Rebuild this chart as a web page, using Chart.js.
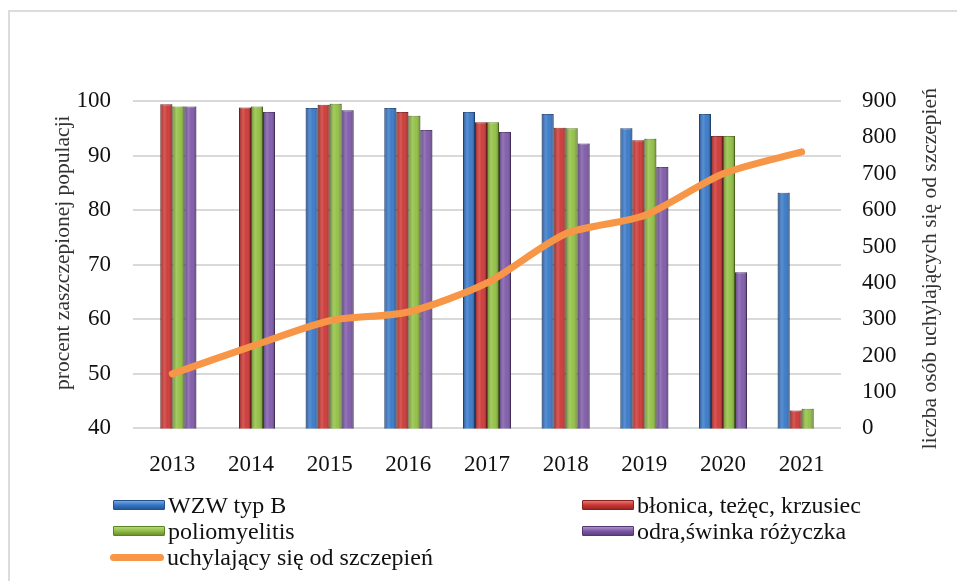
<!DOCTYPE html>
<html>
<head>
<meta charset="utf-8">
<script src="https://cdn.jsdelivr.net/npm/chart.js@4/dist/chart.umd.min.js"></script>
<style>
  html, body { margin: 0; padding: 0; background: #fff; }
  #wrap { position: relative; width: 957px; height: 581px; overflow: hidden; }
  #frame { position: absolute; left: 8px; top: 10px; right: -10px; bottom: -10px;
           border-top: 2px solid #dcdcdc; border-left: 2px solid #dcdcdc; }
  #chartBox { position: absolute; left: 0; top: 0; width: 957px; height: 506px; }
  #legend { position: absolute; left: 0; top: 0; width: 957px; height: 581px;
            font-family: "Liberation Serif", "DejaVu Serif", serif; font-size: 24px; color: #111; }
  .item { position: absolute; display: flex; align-items: center; white-space: nowrap; line-height: 26px; }
  .box { width: 52px; height: 10px; margin-right: 3px; box-sizing: border-box; border-radius: 1px; }
  .stroke { width: 54px; height: 7px; margin-right: 3px; border-radius: 4px; }
</style>
</head>
<body>
<div id="wrap">
  <div id="frame"></div>
  <div id="chartBox"><canvas id="vaccChart"></canvas></div>
  <div id="legend"></div>
</div>
<script>
const years = ['2013', '2014', '2015', '2016', '2017', '2018', '2019', '2020', '2021'];

const wzwB = [null, null, 98.7, 98.7, 98.0, 97.6, 95.0, 97.6, 83.2];
const blonica = [99.4, 98.8, 99.3, 98.0, 96.1, 95.1, 92.8, 93.6, 43.3];
const polio = [99.0, 99.0, 99.5, 97.3, 96.1, 95.0, 93.1, 93.6, 43.6];
const odra = [99.0, 98.0, 98.3, 94.7, 94.3, 92.2, 87.9, 68.6, null];
const refusers = [150, 225, 296, 320, 400, 535, 585, 700, 760];

const leftTicks = [40, 50, 60, 70, 80, 90, 100];
const rightTicks = [0, 100, 200, 300, 400, 500, 600, 700, 800, 900];

const leftTitle = 'procent zaszczepionej populacji';
const rightTitle = 'liczba osób uchylających się od szczepień';

const serif = '"Liberation Serif", "DejaVu Serif", serif';

function barSet(label, data, fill, edge) {
    return {
        type: 'bar',
        label,
        data,
        backgroundColor: fill,
        borderColor: edge,
        borderWidth: 1,
        categoryPercentage: 0.61,
        barPercentage: 1.0,
        yAxisID: 'y',
        order: 1,
    };
}

// cylinder-like shading over each bar, using the bar elements' own geometry
const barShade = {
    id: 'barShade',
    afterDatasetDraw(chart, args) {
        if (args.meta.type !== 'bar') return;
        const c = chart.ctx;
        const bottom = chart.chartArea.bottom;
        c.save();
        args.meta.data.forEach((bar) => {
            if (bar.skip || isNaN(bar.y)) return;
            const half = bar.width / 2;
            const g = c.createLinearGradient(bar.x - half, 0, bar.x + half, 0);
            g.addColorStop(0, 'rgba(0,0,0,0.28)');
            g.addColorStop(0.35, 'rgba(255,255,255,0.18)');
            g.addColorStop(0.6, 'rgba(255,255,255,0.05)');
            g.addColorStop(1, 'rgba(0,0,0,0.32)');
            c.fillStyle = g;
            c.fillRect(bar.x - half, bar.y, bar.width, Math.min(bar.base, bottom) - bar.y);
        });
        c.restore();
    },
};

// both axis titles read bottom-to-top, as in the original
const axisTitles = {
    id: 'axisTitles',
    afterDraw(chart) {
        const c = chart.ctx;
        const area = chart.chartArea;
        const mid = area.top + (area.bottom - area.top) / 2;
        c.save();
        c.font = '21.5px ' + serif;
        c.fillStyle = '#333';
        c.textAlign = 'center';
        c.textBaseline = 'middle';
        [[63, mid - 12, leftTitle], [930, mid + 4, rightTitle]].forEach(([x, y, t]) => {
            c.save();
            c.translate(x, y);
            c.rotate(-Math.PI / 2);
            c.fillText(t, 0, 0);
            c.restore();
        });
        c.restore();
    },
};

const tickFont = { family: serif, size: 23 };

const ctx = document.getElementById('vaccChart');
const chart = new Chart(ctx, {
    data: {
        labels: years,
        datasets: [
            barSet('WZW typ B', wzwB, '#3476c8', '#23508e'),
            barSet('błonica, teżęc, krzusiec', blonica, '#cc3431', '#8a1f1d'),
            barSet('poliomyelitis', polio, '#90bf40', '#5d8222'),
            barSet('odra,świnka różyczka', odra, '#7d57a8', '#523875'),
            {
                type: 'line',
                label: 'uchylający się od szczepień',
                data: refusers,
                borderColor: '#f79646',
                backgroundColor: '#f79646',
                borderWidth: 7,
                borderCapStyle: 'round',
                borderJoinStyle: 'round',
                pointRadius: 0,
                tension: 0.25,
                yAxisID: 'y1',
                order: 0,
            },
        ],
    },
    plugins: [barShade, axisTitles],
    options: {
        responsive: true,
        maintainAspectRatio: false,
        animation: false,
        layout: { padding: { left: 76, right: 59, top: 101, bottom: 12 } },
        plugins: { legend: { display: false }, tooltip: { enabled: false } },
        scales: {
            x: {
                grid: { display: false },
                border: { display: false },
                ticks: { font: tickFont, color: '#111', padding: 15 },
            },
            y: {
                position: 'left',
                min: 40,
                max: 100,
                afterBuildTicks: (s) => { s.ticks = leftTicks.map(v => ({ value: v })); },
                afterFit: (s) => { s.width = 57; },
                grid: { color: '#d9d9d9', lineWidth: 2, drawTicks: false },
                border: { display: false },
                ticks: { font: tickFont, color: '#111', padding: 22 },
            },
            y1: {
                position: 'right',
                min: 0,
                max: 900,
                afterBuildTicks: (s) => { s.ticks = rightTicks.map(v => ({ value: v })); },
                afterFit: (s) => { s.width = 57; },
                grid: { display: false, drawTicks: false },
                border: { display: false },
                ticks: { font: tickFont, color: '#111', padding: 21 },
            },
        },
    },
});

// legend laid out in two columns like the original
const legendSpots = [[113, 492], [582, 492], [113, 518], [582, 518], [110, 544]];
const legendEl = document.getElementById('legend');
chart.data.datasets.forEach((ds, i) => {
    const item = document.createElement('div');
    item.className = 'item';
    item.style.left = legendSpots[i][0] + 'px';
    item.style.top = legendSpots[i][1] + 'px';
    const mark = document.createElement('span');
    if (ds.type === 'line') {
        mark.className = 'stroke';
        mark.style.background = ds.borderColor;
    } else {
        mark.className = 'box';
        mark.style.background = 'linear-gradient(rgba(255,255,255,0.35), rgba(255,255,255,0) 50%, rgba(0,0,0,0.25)), ' + ds.backgroundColor;
        mark.style.border = '1px solid ' + ds.borderColor;
    }
    const txt = document.createElement('span');
    txt.textContent = ds.label;
    item.appendChild(mark);
    item.appendChild(txt);
    legendEl.appendChild(item);
});
</script>
</body>
</html>
